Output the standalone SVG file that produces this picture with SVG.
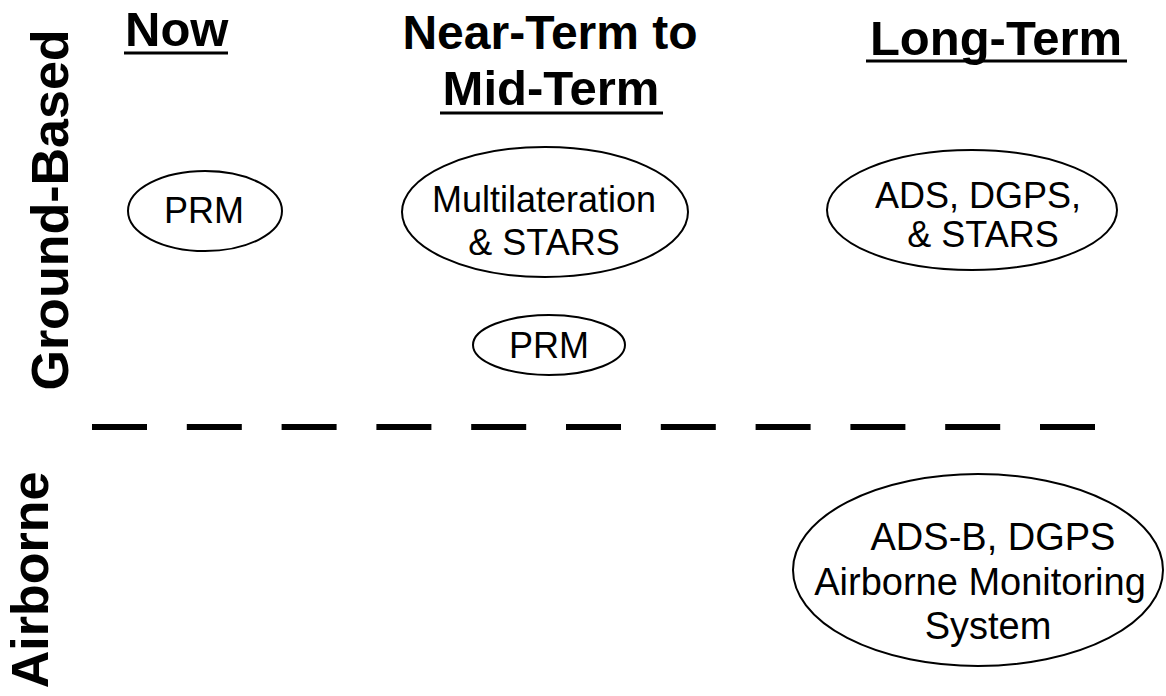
<svg xmlns="http://www.w3.org/2000/svg" width="1166" height="696" viewBox="0 0 1166 696">
  <style>
    .head { font-family: "Liberation Sans", Arial, sans-serif; font-weight: bold; font-size: 49px; fill: #000; }
    .side { font-family: "Liberation Sans", Arial, sans-serif; font-weight: bold; font-size: 52px; fill: #000; }
    .lbl  { font-family: "Liberation Sans", Arial, sans-serif; font-size: 36px; fill: #000; text-anchor: middle; }
    .lbl-lg { font-size: 38px; }
    .ell  { fill: #fff; stroke: #000; stroke-width: 2; }
    .uline { stroke: #000; stroke-width: 3; }
  </style>
  <rect width="1166" height="696" fill="#fff"/>

  <!-- row labels -->
  <g id="label-ground">
    <text class="side" text-anchor="middle" transform="translate(68,210) rotate(-90)">Ground-Based</text>
  </g>
  <g id="label-airborne">
    <text class="side" text-anchor="middle" transform="translate(48,580) rotate(-90)">Airborne</text>
  </g>

  <!-- column headings -->
  <g id="head-now">
    <text class="head" x="125" y="46">Now</text>
    <line class="uline" x1="124" y1="53" x2="228" y2="53"/>
  </g>
  <g id="head-mid">
    <text class="head" x="550" y="49" text-anchor="middle" style="font-size:48px">Near-Term to</text>
    <text class="head" x="551" y="105" text-anchor="middle">Mid-Term</text>
    <line class="uline" x1="440" y1="113" x2="663" y2="113"/>
  </g>
  <g id="head-long">
    <text class="head" x="996" y="55" text-anchor="middle">Long-Term</text>
    <line class="uline" x1="866" y1="61" x2="1127" y2="61"/>
  </g>

  <!-- divider between ground-based and airborne -->
  <g id="connectors">
    <line x1="92" y1="427" x2="1100" y2="427" stroke="#000" stroke-width="6" stroke-dasharray="55 39.8"/>
  </g>

  <!-- nodes -->
  <g id="now-prm">
    <ellipse class="ell" cx="205" cy="211" rx="77" ry="40"/>
    <text class="lbl" x="204" y="223">PRM</text>
  </g>
  <g id="mid-multilateration">
    <ellipse class="ell" cx="545" cy="212" rx="143" ry="65"/>
    <text class="lbl" x="544" y="212">Multilateration</text>
    <text class="lbl" x="544" y="255">&amp; STARS</text>
  </g>
  <g id="mid-prm">
    <ellipse class="ell" cx="549" cy="345" rx="76" ry="30"/>
    <text class="lbl" x="549" y="358">PRM</text>
  </g>
  <g id="long-ads">
    <ellipse class="ell" cx="972" cy="210" rx="145" ry="60"/>
    <text class="lbl" x="978" y="208">ADS, DGPS,</text>
    <text class="lbl" x="983" y="247">&amp; STARS</text>
  </g>
  <g id="long-adsb">
    <ellipse class="ell" cx="978" cy="570" rx="185" ry="96"/>
    <text class="lbl lbl-lg" x="993" y="550">ADS-B, DGPS</text>
    <text class="lbl lbl-lg" x="980" y="595">Airborne Monitoring</text>
    <text class="lbl lbl-lg" x="988" y="639">System</text>
  </g>
</svg>
